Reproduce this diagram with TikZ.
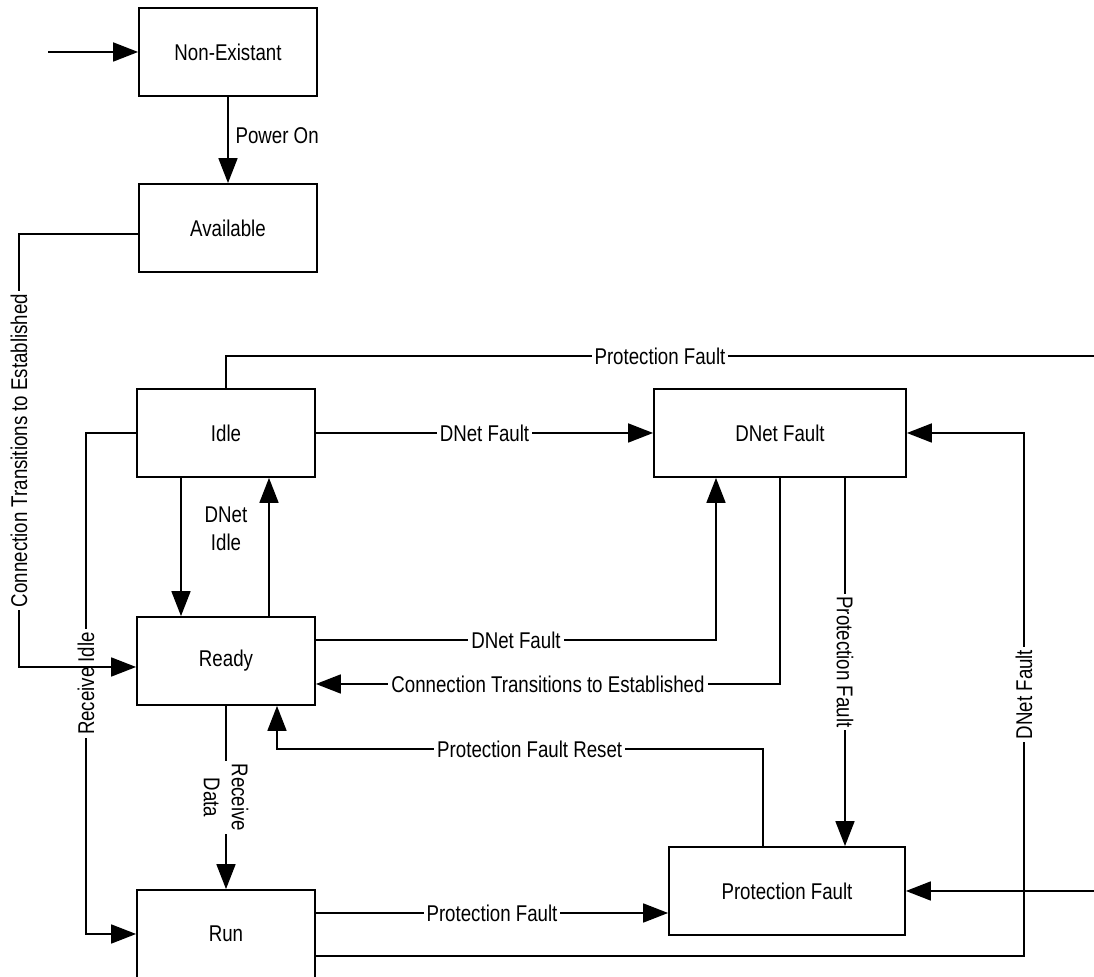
\documentclass[tikz,border=0pt]{standalone}
\usepackage{fontspec}
\setmainfont{Liberation Sans}[FakeStretch=0.82]
\usetikzlibrary{arrows.meta,calc}

\tikzset{
  state/.style={draw, line width=0.9pt, minimum width=89pt, minimum height=44pt, inner sep=0pt},
  tr/.style={line width=0.9pt, -{Triangle[length=12.5pt,width=9.5pt]}},
  wire/.style={line width=0.9pt},
  lbl/.style={fill=white, inner sep=1.5pt}
}

\begin{document}
\begin{tikzpicture}[x=0.5pt, y=-0.5pt, font=\fontsize{11.4}{14}\selectfont]
  \useasboundingbox (0,0) rectangle (1094,977);
  \node[state] (nonex) at (228,52) {Non-Existant};
  \node[state] (avail) at (228,228) {Available};
  \node[state] (idle) at (226,433) {Idle};
  \node[state] (ready) at (226,661) {Ready};
  \node[state] (run) at (226,934) {Run};
  \node[state, minimum width=126pt] (dnet) at (780,433) {DNet Fault};
  \node[state, minimum width=118pt] (pfault) at (787,891) {Protection Fault};
  \node[align=center] (dnetidle) at (226,529) {DNet\\Idle};

  \coordinate (entry) at (48,52);
  \coordinate (pfout) at (1094,356);
  \coordinate (pfin) at (1094,891);

  \draw[tr] (entry) -- (nonex);
  \draw[tr] (nonex) -- node[right, pos=0.45] {Power On} (avail);

  % left side
  \draw[tr] (idle.west) -- ++(-50,0) |- node[lbl, rotate=90, pos=0.25] {Receive Idle} (run.west);
  \draw[tr] ([yshift=-3pt]avail.west) -- ++(-119,0) |- node[lbl, rotate=90, pos=0.25] {Connection Transitions to Established} ([yshift=-3pt]ready.west);
  \draw[tr] ([xshift=-22.5pt]idle.south) -- ([xshift=-22.5pt]ready.north);
  \draw[tr] ([xshift=21.5pt]ready.north) -- ([xshift=21.5pt]idle.south);
  \draw[tr] (ready) -- node[lbl, rotate=-90, align=center] {Receive\\Data} (run);

  % faults
  \draw[wire] (idle.north) |- node[lbl, pos=0.75] {Protection Fault} (pfout);
  \draw[tr] (pfin) -- (pfault.east);
  \draw[tr] (idle) -- node[lbl] {DNet Fault} (dnet);
  \draw[tr] ([yshift=10.5pt]ready.east) -| node[lbl, pos=0.25] {DNet Fault} ([xshift=-32pt]dnet.south);
  \draw[tr] (dnet.south) |- node[lbl, pos=0.75] {Connection Transitions to Established} ([yshift=-11.5pt]ready.east);
  \draw[tr] ([xshift=32.5pt]dnet.south) -- node[lbl, rotate=-90] {Protection Fault} ([xshift=29pt]pfault.north);
  \draw[tr] ([yshift=-11pt]run.east) -| ([xshift=58.5pt]dnet.east) node[lbl, rotate=90, pos=0.75] {DNet Fault} -- (dnet.east);
  \draw[tr] ([yshift=10.5pt]run.east) -- node[lbl] {Protection Fault} ([yshift=-11pt]pfault.west);
  \draw[tr] ([xshift=-12pt]pfault.north) -- ++(0,-97) -| node[lbl, pos=0.24] {Protection Fault Reset} ([xshift=25.5pt]ready.south);
\end{tikzpicture}
\end{document}
